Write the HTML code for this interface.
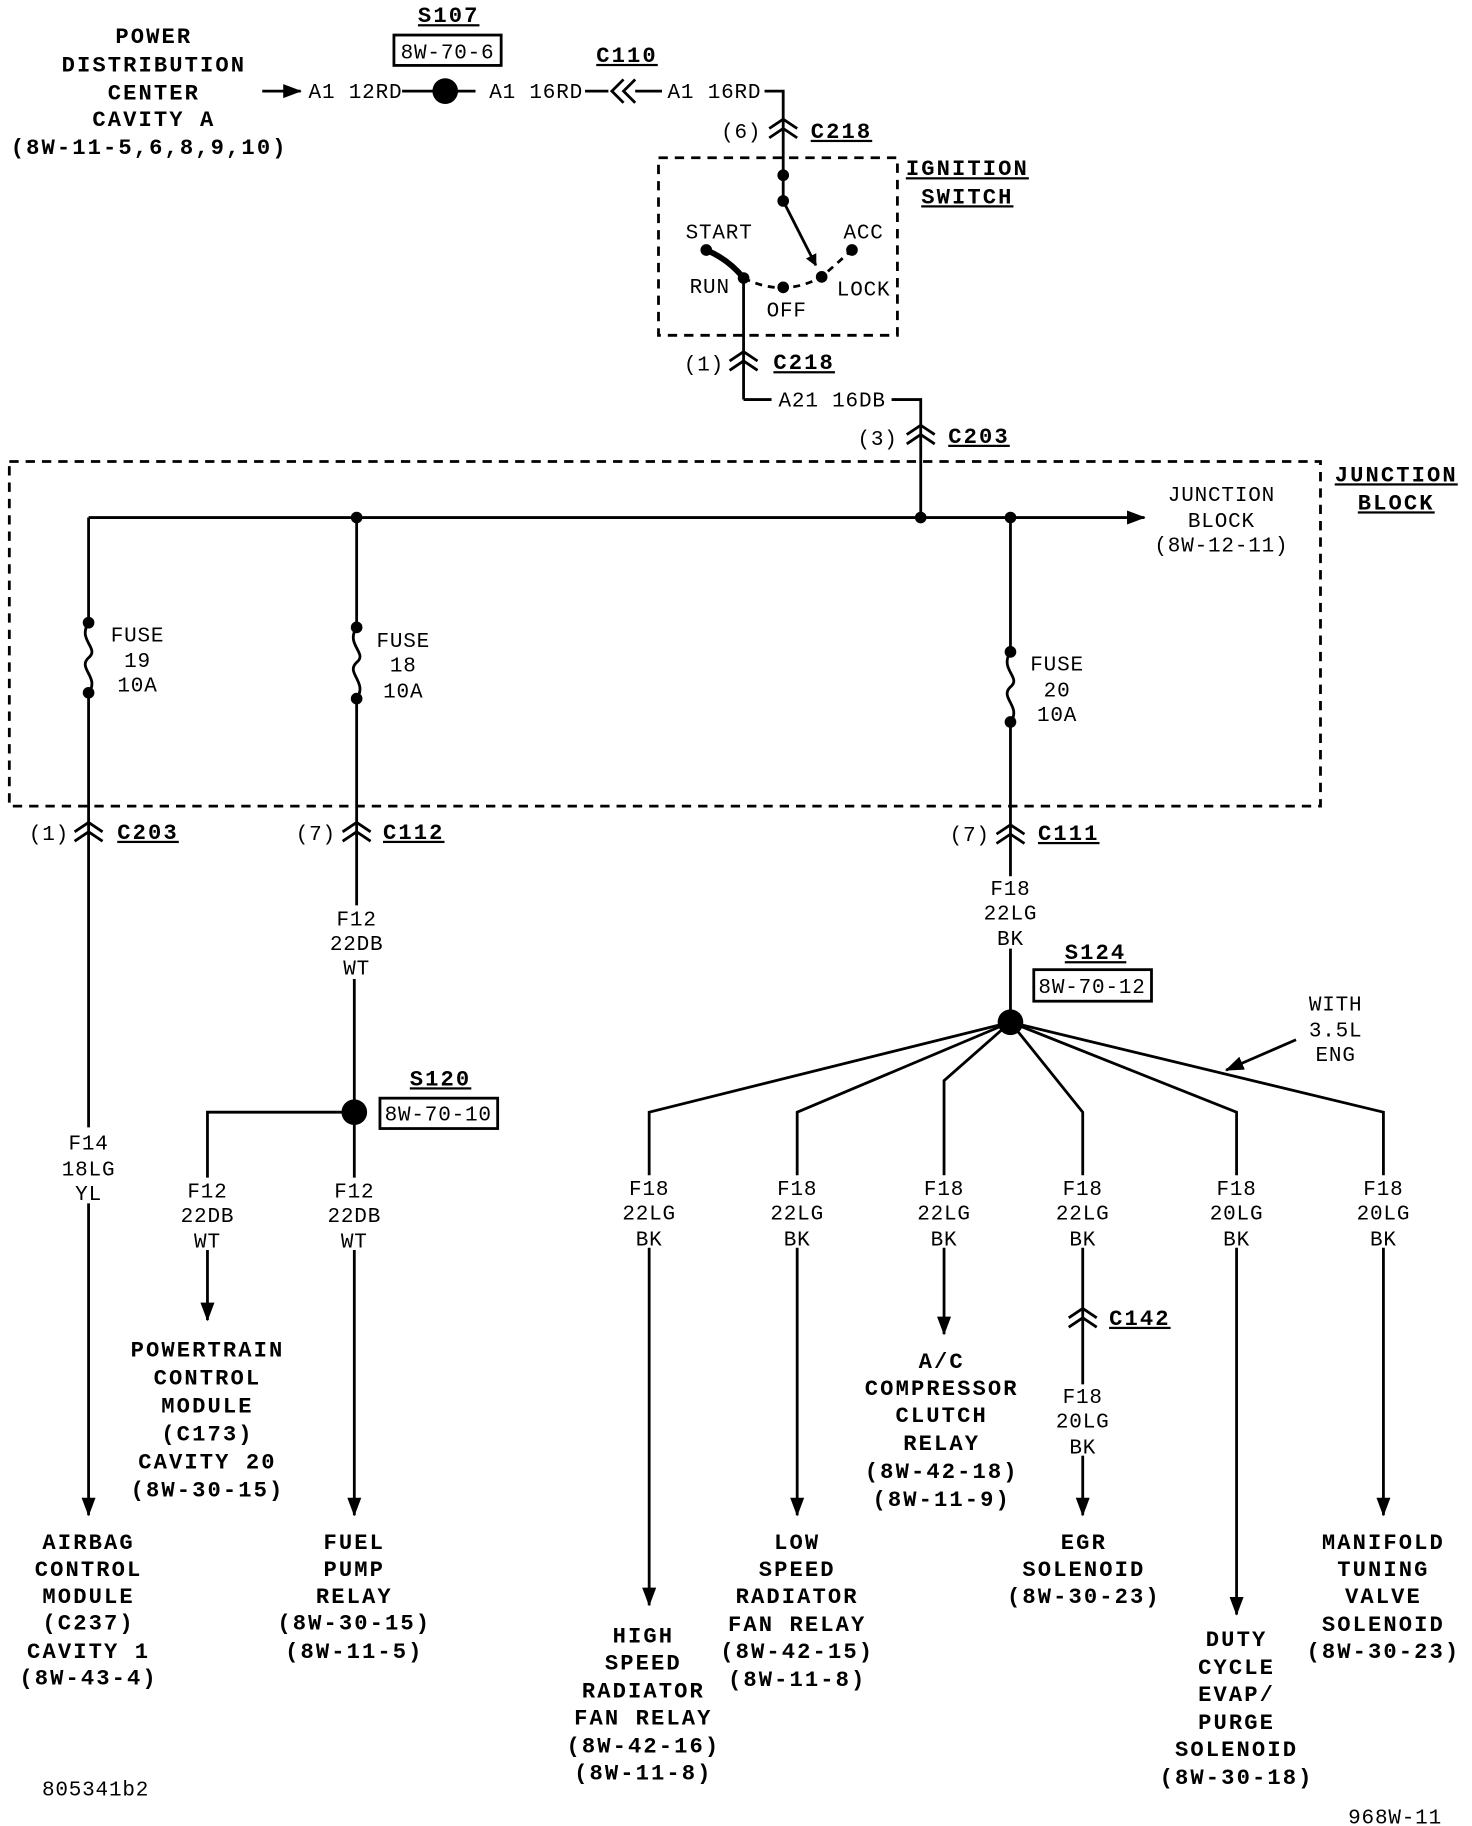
<!DOCTYPE html>
<html><head><meta charset="utf-8"><style>
html,body{margin:0;padding:0;background:#fff;}
svg{display:block;}
text{font-family:"Liberation Mono",monospace;font-size:18px;fill:#000;letter-spacing:0.7px;}
.b{font-weight:bold;font-size:19px;letter-spacing:1.8px;}
</style></head><body>
<svg width="1472" height="1826" viewBox="0 0 1263 1563" preserveAspectRatio="none" xmlns="http://www.w3.org/2000/svg">
<defs>
<marker id="ar" markerWidth="10" markerHeight="10" refX="9" refY="5" orient="auto" markerUnits="userSpaceOnUse"><path d="M0,0 L10,5 L0,10 z" fill="#000"/></marker>
<marker id="ar2" markerWidth="16" markerHeight="12" refX="15" refY="6" orient="auto" markerUnits="userSpaceOnUse"><path d="M0,0 L16,6 L0,12 z" fill="#000"/></marker>
</defs>
<g stroke="#000" stroke-width="2.4" fill="none">
<line x1="225" y1="78" x2="258" y2="78" marker-end="url(#ar2)"/>
<line x1="345" y1="78" x2="408" y2="78"/>
<line x1="502" y1="78" x2="522" y2="78"/>
<polyline points="535,68 525,78 535,88"/><polyline points="545,68 535,78 545,88"/>
<line x1="545" y1="78" x2="568" y2="78"/>
<polyline points="656,78 672,78 672,150"/>
<polyline points="660,110 672,102 684,110"/><polyline points="660,118 672,110 684,118"/>
<rect x="338" y="30" width="92" height="26"/>
<rect x="565" y="135" width="205" height="152" stroke-dasharray="8,6"/>
<line x1="672" y1="150" x2="672" y2="172"/>
<line x1="672" y1="172" x2="700" y2="227" marker-end="url(#ar)"/>
<path d="M606,214 Q625,222 638,238" stroke-width="5"/>
<path d="M638,238 Q672,255 705,237 L731,214" stroke-dasharray="6,5"/>
<line x1="638" y1="238" x2="638" y2="342"/>
<polyline points="626,309 638,301 650,309"/><polyline points="626,317 638,309 650,317"/>
<polyline points="638,342 662,342"/>
<polyline points="765,342 790,342 790,443"/>
<polyline points="778,372 790,364 802,372"/><polyline points="778,380 790,372 802,380"/>
<rect x="8" y="395" width="1125" height="295" stroke-dasharray="8,6"/>
<line x1="76" y1="443" x2="982" y2="443" marker-end="url(#ar2)"/>
<line x1="76" y1="443" x2="76" y2="533"/>
<path d="M76,533 C66,548 86,555 76,563 C66,572 86,580 76,593"/>
<line x1="76" y1="593" x2="76" y2="965"/>
<line x1="76" y1="1030" x2="76" y2="1297" marker-end="url(#ar2)"/>
<polyline points="64,712 76,704 88,712"/><polyline points="64,720 76,712 88,720"/>
<line x1="306" y1="443" x2="306" y2="537"/>
<path d="M306,537 C296,552 316,559 306,567 C296,576 316,584 306,598"/>
<line x1="306" y1="598" x2="306" y2="775"/>
<line x1="304" y1="838" x2="304" y2="952"/>
<polyline points="294,712 306,704 318,712"/><polyline points="294,720 306,712 318,720"/>
<polyline points="304,952 178,952 178,1008"/>
<line x1="178" y1="1070" x2="178" y2="1130" marker-end="url(#ar2)"/>
<line x1="304" y1="952" x2="304" y2="1008"/>
<line x1="304" y1="1070" x2="304" y2="1297" marker-end="url(#ar2)"/>
<rect x="326" y="940" width="101" height="26"/>
<line x1="867" y1="443" x2="867" y2="558"/>
<path d="M867,558 C857,573 877,580 867,588 C857,597 877,605 867,618"/>
<line x1="867" y1="618" x2="867" y2="750"/>
<polyline points="855,714 867,706 879,714"/><polyline points="855,722 867,714 879,722"/>
<line x1="867" y1="812" x2="867" y2="875"/>
<rect x="887" y="830" width="101" height="27"/>
<polyline points="867,875 557,952 557,1006"/>
<line x1="557" y1="1068" x2="557" y2="1374" marker-end="url(#ar2)"/>
<polyline points="867,875 684,952 684,1006"/>
<line x1="684" y1="1068" x2="684" y2="1297" marker-end="url(#ar2)"/>
<polyline points="867,875 810,925 810,1006"/>
<line x1="810" y1="1068" x2="810" y2="1142" marker-end="url(#ar2)"/>
<polyline points="867,875 929,952 929,1006"/>
<line x1="929" y1="1068" x2="929" y2="1185"/>
<polyline points="917,1128 929,1120 941,1128"/><polyline points="917,1136 929,1128 941,1136"/>
<line x1="929" y1="1246" x2="929" y2="1297" marker-end="url(#ar2)"/>
<polyline points="867,875 1061,952 1061,1006"/>
<line x1="1061" y1="1068" x2="1061" y2="1382" marker-end="url(#ar2)"/>
<polyline points="867,875 1187,952 1187,1006"/>
<line x1="1187" y1="1068" x2="1187" y2="1297" marker-end="url(#ar2)"/>
<line x1="1112" y1="890" x2="1052" y2="916" marker-end="url(#ar2)"/>
</g>
<g fill="#000">
<circle cx="382" cy="78" r="11"/>
<circle cx="672" cy="150" r="5"/><circle cx="672" cy="172" r="5"/>
<circle cx="606" cy="214" r="5"/><circle cx="638" cy="238" r="5"/><circle cx="672" cy="246" r="5"/><circle cx="705" cy="237" r="5"/><circle cx="731" cy="214" r="5"/>
<circle cx="306" cy="443" r="5"/><circle cx="790" cy="443" r="5"/><circle cx="867" cy="443" r="5"/>
<circle cx="76" cy="533" r="5"/><circle cx="76" cy="593" r="5"/>
<circle cx="306" cy="537" r="5"/><circle cx="306" cy="598" r="5"/>
<circle cx="867" cy="558" r="5"/><circle cx="867" cy="618" r="5"/>
<circle cx="304" cy="952" r="11"/><circle cx="867" cy="875" r="11"/>
</g>
<g text-anchor="middle">
<text class="b" x="132" y="37">POWER</text><text class="b" x="132" y="61">DISTRIBUTION</text><text class="b" x="132" y="85">CENTER</text><text class="b" x="132" y="108">CAVITY A</text><text class="b" x="128" y="132">(8W-11-5,6,8,9,10)</text>
<text x="305" y="84">A1 12RD</text><text x="460" y="84">A1 16RD</text><text x="613" y="84">A1 16RD</text>
<text class="b" x="385" y="19" text-decoration="underline">S107</text><text x="384" y="50">8W-70-6</text>
<text class="b" x="538" y="53" text-decoration="underline">C110</text>
<text x="636" y="118">(6)</text><text class="b" x="722" y="118" text-decoration="underline">C218</text>
<text class="b" x="830" y="150" text-decoration="underline">IGNITION</text><text class="b" x="830" y="174" text-decoration="underline">SWITCH</text>
<text x="617" y="204">START</text><text x="741" y="204">ACC</text><text x="609" y="251">RUN</text><text x="741" y="253">LOCK</text><text x="675" y="271">OFF</text>
<text x="604" y="317">(1)</text><text class="b" x="690" y="316" text-decoration="underline">C218</text>
<text x="714" y="348">A21 16DB</text>
<text x="753" y="381">(3)</text><text class="b" x="840" y="379" text-decoration="underline">C203</text>
<text class="b" x="1198" y="412" text-decoration="underline">JUNCTION</text><text class="b" x="1198" y="436" text-decoration="underline">BLOCK</text>
<text x="1048" y="429">JUNCTION</text><text x="1048" y="451">BLOCK</text><text x="1048" y="472">(8W-12-11)</text>
<text x="118" y="549">FUSE</text><text x="118" y="571">19</text><text x="118" y="592">10A</text>
<text x="346" y="554">FUSE</text><text x="346" y="575">18</text><text x="346" y="597">10A</text>
<text x="907" y="574">FUSE</text><text x="907" y="596">20</text><text x="907" y="617">10A</text>
<text x="42" y="719">(1)</text><text class="b" x="127" y="718" text-decoration="underline">C203</text>
<text x="271" y="719">(7)</text><text class="b" x="355" y="718" text-decoration="underline">C112</text>
<text x="832" y="720">(7)</text><text class="b" x="917" y="719" text-decoration="underline">C111</text>
<text x="306" y="792">F12</text><text x="306" y="813">22DB</text><text x="306" y="834">WT</text>
<text x="867" y="766">F18</text><text x="867" y="787">22LG</text><text x="867" y="809">BK</text>
<text class="b" x="940" y="821" text-decoration="underline">S124</text><text x="937" y="850">8W-70-12</text>
<text class="b" x="378" y="929" text-decoration="underline">S120</text><text x="376" y="959">8W-70-10</text>
<text x="76" y="984">F14</text><text x="76" y="1006">18LG</text><text x="76" y="1027">YL</text>
<text x="178" y="1025">F12</text><text x="178" y="1046">22DB</text><text x="178" y="1068">WT</text>
<text x="304" y="1025">F12</text><text x="304" y="1046">22DB</text><text x="304" y="1068">WT</text>
<text x="1146" y="865">WITH</text><text x="1146" y="887">3.5L</text><text x="1146" y="908">ENG</text>
<text x="557" y="1023">F18</text><text x="557" y="1044">22LG</text><text x="557" y="1066">BK</text>
<text x="684" y="1023">F18</text><text x="684" y="1044">22LG</text><text x="684" y="1066">BK</text>
<text x="810" y="1023">F18</text><text x="810" y="1044">22LG</text><text x="810" y="1066">BK</text>
<text x="929" y="1023">F18</text><text x="929" y="1044">22LG</text><text x="929" y="1066">BK</text>
<text x="1061" y="1023">F18</text><text x="1061" y="1044">20LG</text><text x="1061" y="1066">BK</text>
<text x="1187" y="1023">F18</text><text x="1187" y="1044">20LG</text><text x="1187" y="1066">BK</text>
<text class="b" x="978" y="1134" text-decoration="underline">C142</text>
<text x="929" y="1201">F18</text><text x="929" y="1222">20LG</text><text x="929" y="1244">BK</text>
<text class="b" x="178" y="1161">POWERTRAIN</text><text class="b" x="178" y="1185">CONTROL</text><text class="b" x="178" y="1209">MODULE</text><text class="b" x="178" y="1233">(C173)</text><text class="b" x="178" y="1257">CAVITY 20</text><text class="b" x="178" y="1281">(8W-30-15)</text>
<text class="b" x="76" y="1326">AIRBAG</text><text class="b" x="76" y="1349">CONTROL</text><text class="b" x="76" y="1372">MODULE</text><text class="b" x="76" y="1395">(C237)</text><text class="b" x="76" y="1419">CAVITY 1</text><text class="b" x="76" y="1442">(8W-43-4)</text>
<text class="b" x="304" y="1326">FUEL</text><text class="b" x="304" y="1349">PUMP</text><text class="b" x="304" y="1372">RELAY</text><text class="b" x="304" y="1395">(8W-30-15)</text><text class="b" x="304" y="1419">(8W-11-5)</text>
<text class="b" x="552" y="1406">HIGH</text><text class="b" x="552" y="1429">SPEED</text><text class="b" x="552" y="1453">RADIATOR</text><text class="b" x="552" y="1476">FAN RELAY</text><text class="b" x="552" y="1500">(8W-42-16)</text><text class="b" x="552" y="1523">(8W-11-8)</text>
<text class="b" x="684" y="1326">LOW</text><text class="b" x="684" y="1349">SPEED</text><text class="b" x="684" y="1372">RADIATOR</text><text class="b" x="684" y="1396">FAN RELAY</text><text class="b" x="684" y="1419">(8W-42-15)</text><text class="b" x="684" y="1443">(8W-11-8)</text>
<text class="b" x="808" y="1171">A/C</text><text class="b" x="808" y="1194">COMPRESSOR</text><text class="b" x="808" y="1217">CLUTCH</text><text class="b" x="808" y="1241">RELAY</text><text class="b" x="808" y="1265">(8W-42-18)</text><text class="b" x="808" y="1289">(8W-11-9)</text>
<text class="b" x="930" y="1326">EGR</text><text class="b" x="930" y="1349">SOLENOID</text><text class="b" x="930" y="1372">(8W-30-23)</text>
<text class="b" x="1061" y="1409">DUTY</text><text class="b" x="1061" y="1433">CYCLE</text><text class="b" x="1061" y="1456">EVAP/</text><text class="b" x="1061" y="1480">PURGE</text><text class="b" x="1061" y="1503">SOLENOID</text><text class="b" x="1061" y="1527">(8W-30-18)</text>
<text class="b" x="1187" y="1326">MANIFOLD</text><text class="b" x="1187" y="1349">TUNING</text><text class="b" x="1187" y="1372">VALVE</text><text class="b" x="1187" y="1396">SOLENOID</text><text class="b" x="1187" y="1419">(8W-30-23)</text>
<text x="82" y="1537">805341b2</text>
<text x="1197" y="1561">968W-11</text>
</g>
</svg>
</body></html>
